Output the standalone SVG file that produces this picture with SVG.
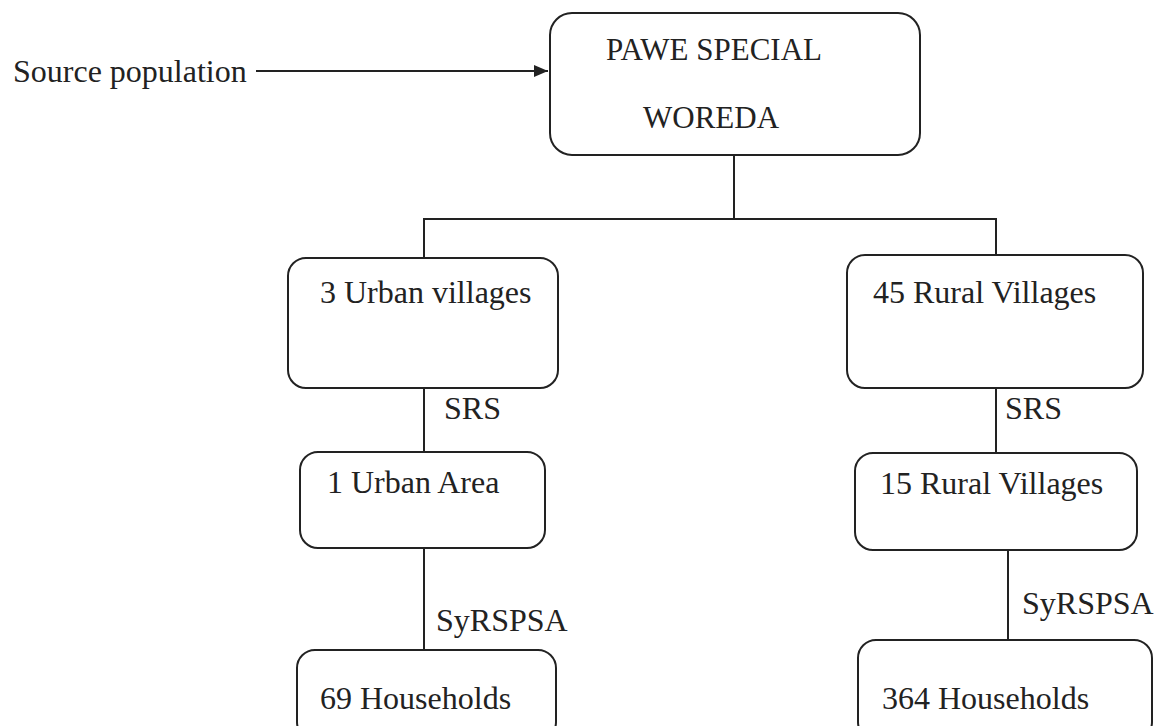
<svg xmlns="http://www.w3.org/2000/svg" width="1170" height="726" viewBox="0 0 1170 726">
<defs>
<style>
.box{fill:#fff;stroke:#222;stroke-width:2}
.t{font-family:"Liberation Serif","Times New Roman",serif;font-size:32px;fill:#222}
.ln{stroke:#222;stroke-width:2;fill:none}
</style>
<marker id="ah" viewBox="0 0 14 12" refX="14" refY="6" markerWidth="14" markerHeight="12" markerUnits="userSpaceOnUse" orient="auto"><path d="M0,0 L14,6 L0,12 z" fill="#222"/></marker>
</defs>
<rect width="1170" height="726" fill="#fff"/>
<g id="connectors">
<line class="ln" x1="256" y1="71" x2="548" y2="71" marker-end="url(#ah)"/>
<polyline class="ln" points="734,155 734,219"/>
<polyline class="ln" points="424,258 424,219 996,219 996,255"/>
<line class="ln" x1="424" y1="388" x2="424" y2="452"/>
<line class="ln" x1="424" y1="548" x2="424" y2="650"/>
<line class="ln" x1="996" y1="388" x2="996" y2="453"/>
<line class="ln" x1="1008" y1="550" x2="1008" y2="640"/>
<text class="t" x="444" y="419">SRS</text>
<text class="t" x="436" y="631">SyRSPSA</text>
<text class="t" x="1005" y="419">SRS</text>
<text class="t" x="1022" y="614">SyRSPSA</text>
</g>
<g id="source"><text class="t" x="13" y="82">Source population</text></g>
<g id="pawe"><rect class="box" x="550" y="13" width="370" height="142" rx="22"/><text class="t" x="606" y="60" style="font-size:31px">PAWE SPECIAL</text><text class="t" x="643" y="128" style="font-size:31px">WOREDA</text></g>
<g id="urban3"><rect class="box" x="288" y="258" width="270" height="130" rx="18"/><text class="t" x="320" y="303">3 Urban villages</text></g>
<g id="rural45"><rect class="box" x="847" y="255" width="296" height="133" rx="18"/><text class="t" x="873" y="303">45 Rural Villages</text></g>
<g id="urban1"><rect class="box" x="300" y="452" width="245" height="96" rx="18"/><text class="t" x="327" y="493">1 Urban Area</text></g>
<g id="rural15"><rect class="box" x="855" y="453" width="282" height="97" rx="18"/><text class="t" x="880" y="494">15 Rural Villages</text></g>
<g id="hh69"><rect class="box" x="297" y="650" width="259" height="90" rx="18"/><text class="t" x="320" y="709">69 Households</text></g>
<g id="hh364"><rect class="box" x="858" y="640" width="294" height="100" rx="18"/><text class="t" x="882" y="709">364 Households</text></g>
</svg>
